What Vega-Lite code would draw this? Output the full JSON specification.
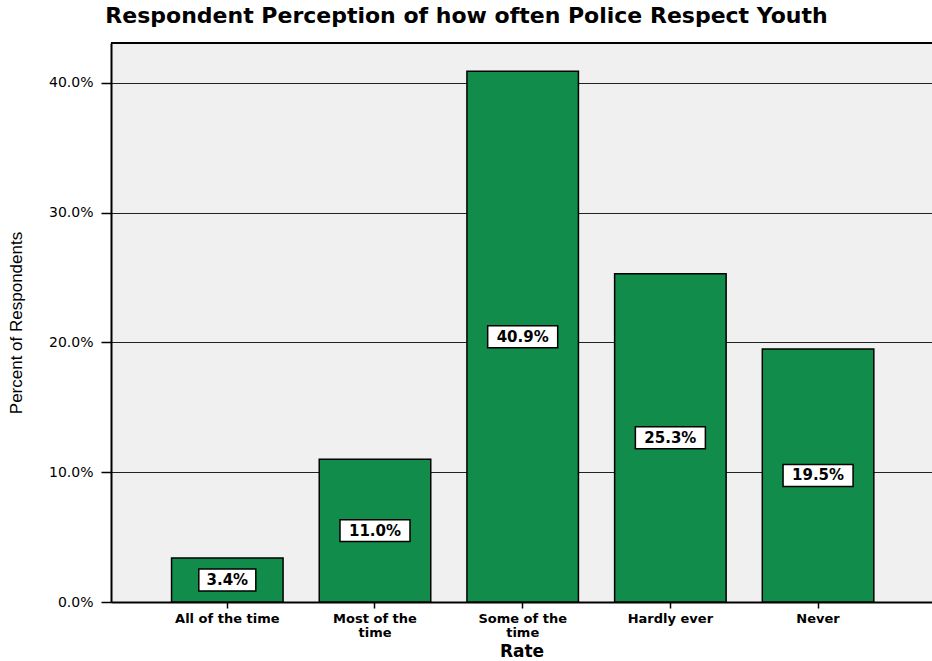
{
  "$schema": "https://vega.github.io/schema/vega-lite/v6.json",
  "width": 821,
  "height": 559,
  "autosize": {"type": "none"},
  "padding": {"left": 111, "top": 43, "right": 0, "bottom": 59},
  "background": "white",
  "config": {"view": {"fill": "#f0f0f0", "stroke": null}},
  "title": {
    "text": "Respondent Perception of how often Police Respect Youth",
    "font": "DejaVu Sans",
    "fontSize": 22,
    "fontWeight": "bold",
    "color": "black",
    "anchor": "middle",
    "dx": -55,
    "offset": 14
  },
  "data": {
    "values": [
      {"rate": "All of the time", "pct": 3.4},
      {"rate": "Most of the time", "pct": 11.0},
      {"rate": "Some of the time", "pct": 40.9},
      {"rate": "Hardly ever", "pct": 25.3},
      {"rate": "Never", "pct": 19.5}
    ]
  },
  "transform": [
    {"calculate": "datum.pct / 2", "as": "mid"},
    {"calculate": "format(datum.pct, '.1f') + '%'", "as": "label"}
  ],
  "encoding": {
    "x": {
      "field": "rate",
      "type": "nominal",
      "sort": null,
      "scale": {"paddingInner": 0.245, "paddingOuter": 0.402, "align": 0.51},
      "axis": {
        "title": "Rate",
        "titleFont": "DejaVu Sans",
        "titleFontSize": 17,
        "titleFontWeight": "bold",
        "titleColor": "black",
        "titlePadding": 4,
        "labelAngle": 0,
        "labelFont": "DejaVu Sans",
        "labelFontSize": 13,
        "labelFontWeight": "bold",
        "labelColor": "black",
        "labelPadding": 4,
        "labelLineHeight": 14,
        "labelExpr": "datum.label == 'Most of the time' ? ['Most of the', 'time'] : datum.label == 'Some of the time' ? ['Some of the', 'time'] : datum.label",
        "domainColor": "black",
        "domainWidth": 2,
        "tickColor": "black",
        "tickWidth": 1.5,
        "tickSize": 6,
        "grid": false
      }
    }
  },
  "layer": [
    {
      "mark": {"type": "rule", "color": "black", "strokeWidth": 2},
      "encoding": {"y": {"datum": 43.08, "type": "quantitative"}, "x": null}
    },
    {
      "mark": {"type": "bar", "fill": "#118c4a", "stroke": "black", "strokeWidth": 1.5},
      "encoding": {
        "y": {
          "field": "pct",
          "type": "quantitative",
          "scale": {"domain": [0, 43.08], "nice": false},
          "axis": {
            "title": "Percent of Respondents",
            "titleFont": "Liberation Sans",
            "titleFontSize": 17,
            "titleFontWeight": "normal",
            "titleColor": "black",
            "titleX": -86,
            "values": [0, 10, 20, 30, 40],
            "labelExpr": "format(datum.value, '.1f') + '%'",
            "labelFont": "DejaVu Sans",
            "labelFontSize": 14,
            "labelColor": "black",
            "labelPadding": 8,
            "domainColor": "black",
            "domainWidth": 2,
            "tickColor": "black",
            "tickWidth": 1.5,
            "tickSize": 10,
            "grid": true,
            "gridColor": "#222222",
            "gridWidth": 1
          }
        }
      }
    },
    {
      "mark": {"type": "point", "filled": true, "fill": "white", "stroke": "black", "strokeWidth": 1.5, "opacity": 1},
      "encoding": {
        "y": {"field": "mid", "type": "quantitative"},
        "shape": {
          "condition": {"test": "datum.pct < 10", "value": "M-1,-0.386H1V0.386H-1Z"},
          "value": "M-1,-0.314H1V0.314H-1Z"
        },
        "size": {"condition": {"test": "datum.pct < 10", "value": 3249}, "value": 4900}
      }
    },
    {
      "mark": {"type": "text", "font": "DejaVu Sans", "fontSize": 15, "fontWeight": "bold", "color": "black", "baseline": "middle", "align": "center"},
      "encoding": {
        "y": {"field": "mid", "type": "quantitative"},
        "text": {"field": "label"}
      }
    }
  ]
}
